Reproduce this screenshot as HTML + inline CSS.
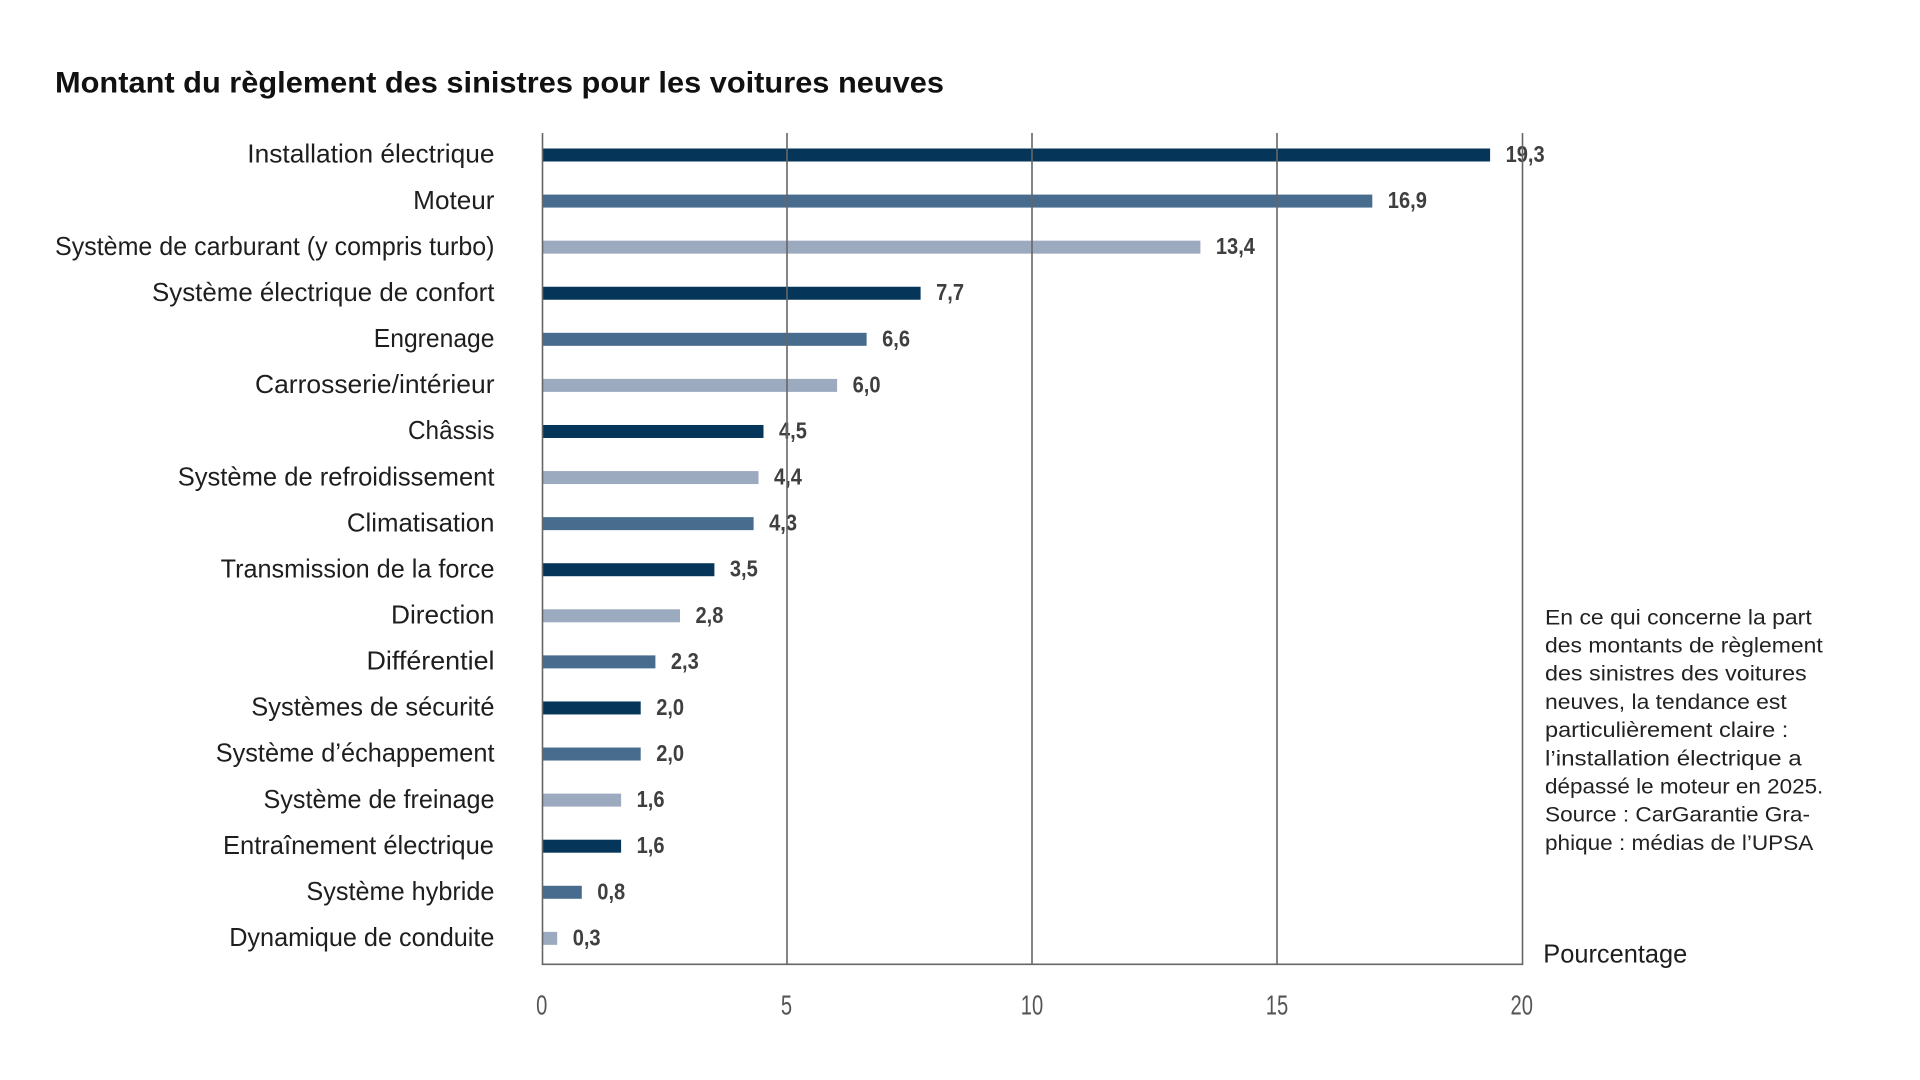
<!DOCTYPE html>
<html>
<head>
<meta charset="utf-8">
<style>
html,body{margin:0;padding:0;background:#fff;}
svg{display:block;}
text{font-family:"Liberation Sans",sans-serif;}
</style>
</head>
<body>
<svg width="1920" height="1080" viewBox="0 0 1920 1080" xmlns="http://www.w3.org/2000/svg">
<rect width="1920" height="1080" fill="#fff"/>
<text x="55" y="92.7" font-size="30" font-weight="bold" fill="#111" textLength="889" lengthAdjust="spacingAndGlyphs">Montant du règlement des sinistres pour les voitures neuves</text>

<!-- category labels -->
<g font-size="26" fill="#1e1e1e">
<text x="247.3" y="162.7" textLength="247.2" lengthAdjust="spacingAndGlyphs">Installation électrique</text>
<text x="413.2" y="208.8" textLength="81.3" lengthAdjust="spacingAndGlyphs">Moteur</text>
<text x="55" y="254.9" textLength="439.5" lengthAdjust="spacingAndGlyphs">Système de carburant (y compris turbo)</text>
<text x="152" y="300.9" textLength="342.5" lengthAdjust="spacingAndGlyphs">Système électrique de confort</text>
<text x="373.8" y="347.0" textLength="120.7" lengthAdjust="spacingAndGlyphs">Engrenage</text>
<text x="255" y="393.1" textLength="239.5" lengthAdjust="spacingAndGlyphs">Carrosserie/intérieur</text>
<text x="408" y="439.2" textLength="86.5" lengthAdjust="spacingAndGlyphs">Châssis</text>
<text x="177.7" y="485.3" textLength="316.8" lengthAdjust="spacingAndGlyphs">Système de refroidissement</text>
<text x="346.9" y="531.3" textLength="147.6" lengthAdjust="spacingAndGlyphs">Climatisation</text>
<text x="220.6" y="577.4" textLength="273.9" lengthAdjust="spacingAndGlyphs">Transmission de la force</text>
<text x="391" y="623.5" textLength="103.5" lengthAdjust="spacingAndGlyphs">Direction</text>
<text x="366.5" y="669.6" textLength="128" lengthAdjust="spacingAndGlyphs">Différentiel</text>
<text x="251.3" y="715.7" textLength="243.2" lengthAdjust="spacingAndGlyphs">Systèmes de sécurité</text>
<text x="215.7" y="761.7" textLength="278.8" lengthAdjust="spacingAndGlyphs">Système d’échappement</text>
<text x="263.5" y="807.8" textLength="231" lengthAdjust="spacingAndGlyphs">Système de freinage</text>
<text x="223" y="853.9" textLength="271" lengthAdjust="spacingAndGlyphs">Entraînement électrique</text>
<text x="306.4" y="900.0" textLength="188.1" lengthAdjust="spacingAndGlyphs">Système hybride</text>
<text x="229.2" y="946.1" textLength="265.3" lengthAdjust="spacingAndGlyphs">Dynamique de conduite</text>
</g>

<!-- bars -->
<g>
<rect x="543" y="148.5" width="947.1" height="13" fill="#053659"/>
<rect x="543" y="194.58" width="829.3" height="13" fill="#476c8e"/>
<rect x="543" y="240.66" width="657.4" height="13" fill="#9caabf"/>
<rect x="543" y="286.74" width="377.6" height="13" fill="#053659"/>
<rect x="543" y="332.82" width="323.6" height="13" fill="#476c8e"/>
<rect x="543" y="378.9" width="294.1" height="13" fill="#9caabf"/>
<rect x="543" y="424.98" width="220.5" height="13" fill="#053659"/>
<rect x="543" y="471.06" width="215.5" height="13" fill="#9caabf"/>
<rect x="543" y="517.14" width="210.6" height="13" fill="#476c8e"/>
<rect x="543" y="563.22" width="171.4" height="13" fill="#053659"/>
<rect x="543" y="609.3" width="137" height="13" fill="#9caabf"/>
<rect x="543" y="655.38" width="112.4" height="13" fill="#476c8e"/>
<rect x="543" y="701.46" width="97.7" height="13" fill="#053659"/>
<rect x="543" y="747.54" width="97.7" height="13" fill="#476c8e"/>
<rect x="543" y="793.62" width="78.1" height="13" fill="#9caabf"/>
<rect x="543" y="839.7" width="78.1" height="13" fill="#053659"/>
<rect x="543" y="885.78" width="38.8" height="13" fill="#476c8e"/>
<rect x="543" y="931.86" width="14.2" height="13" fill="#9caabf"/>
</g>

<!-- value labels -->
<g font-size="23" font-weight="bold" fill="#3f3f3f">
<text transform="translate(1505.6,162) scale(0.873,1)">19,3</text>
<text transform="translate(1387.8,208.1) scale(0.873,1)">16,9</text>
<text transform="translate(1215.9,254.2) scale(0.873,1)">13,4</text>
<text transform="translate(936.1,300.2) scale(0.873,1)">7,7</text>
<text transform="translate(882.1,346.3) scale(0.873,1)">6,6</text>
<text transform="translate(852.6,392.4) scale(0.873,1)">6,0</text>
<text transform="translate(779,438.5) scale(0.873,1)">4,5</text>
<text transform="translate(774,484.6) scale(0.873,1)">4,4</text>
<text transform="translate(769.1,530.6) scale(0.873,1)">4,3</text>
<text transform="translate(729.9,576.7) scale(0.873,1)">3,5</text>
<text transform="translate(695.5,622.8) scale(0.873,1)">2,8</text>
<text transform="translate(670.9,668.9) scale(0.873,1)">2,3</text>
<text transform="translate(656.2,715) scale(0.873,1)">2,0</text>
<text transform="translate(656.2,761) scale(0.873,1)">2,0</text>
<text transform="translate(636.6,807.1) scale(0.873,1)">1,6</text>
<text transform="translate(636.6,853.2) scale(0.873,1)">1,6</text>
<text transform="translate(597.3,899.3) scale(0.873,1)">0,8</text>
<text transform="translate(572.7,945.4) scale(0.873,1)">0,3</text>
</g>

<!-- grid lines & axes -->
<g stroke="#666" stroke-width="1.6" fill="none">
<line x1="542.5" y1="133" x2="542.5" y2="964.5"/>
<line x1="787" y1="133" x2="787" y2="964.5"/>
<line x1="1032" y1="133" x2="1032" y2="964.5"/>
<line x1="1277" y1="133" x2="1277" y2="964.5"/>
<line x1="1522.5" y1="133" x2="1522.5" y2="964.5"/>
<line x1="541.7" y1="964.3" x2="1523.3" y2="964.3"/>
</g>

<!-- tick labels -->
<g font-size="28" fill="#555" text-anchor="middle">
<text transform="translate(541.7,1014.3) scale(0.72,1)">0</text>
<text transform="translate(786.5,1014.3) scale(0.72,1)">5</text>
<text transform="translate(1032,1014.3) scale(0.72,1)">10</text>
<text transform="translate(1277,1014.3) scale(0.72,1)">15</text>
<text transform="translate(1521.7,1014.3) scale(0.72,1)">20</text>
</g>

<text x="1543.3" y="962.7" font-size="26" fill="#1e1e1e" textLength="144" lengthAdjust="spacingAndGlyphs">Pourcentage</text>

<!-- annotation -->
<g font-size="21.5" fill="#222">
<text x="1545" y="624.3" textLength="266.7" lengthAdjust="spacingAndGlyphs">En ce qui concerne la part</text>
<text x="1545" y="652.5" textLength="277.7" lengthAdjust="spacingAndGlyphs">des montants de règlement</text>
<text x="1545" y="680.7" textLength="261.7" lengthAdjust="spacingAndGlyphs">des sinistres des voitures</text>
<text x="1545" y="708.9" textLength="241.7" lengthAdjust="spacingAndGlyphs">neuves, la tendance est</text>
<text x="1545" y="737.1" textLength="243.3" lengthAdjust="spacingAndGlyphs">particulièrement claire :</text>
<text x="1545" y="765.3" textLength="256.7" lengthAdjust="spacingAndGlyphs">l’installation électrique a</text>
<text x="1545" y="793.5" textLength="278.3" lengthAdjust="spacingAndGlyphs">dépassé le moteur en 2025.</text>
<text x="1545" y="821.7" textLength="265" lengthAdjust="spacingAndGlyphs">Source : CarGarantie Gra-</text>
<text x="1545" y="849.9" textLength="268.3" lengthAdjust="spacingAndGlyphs">phique : médias de l’UPSA</text>
</g>
</svg>
</body>
</html>
